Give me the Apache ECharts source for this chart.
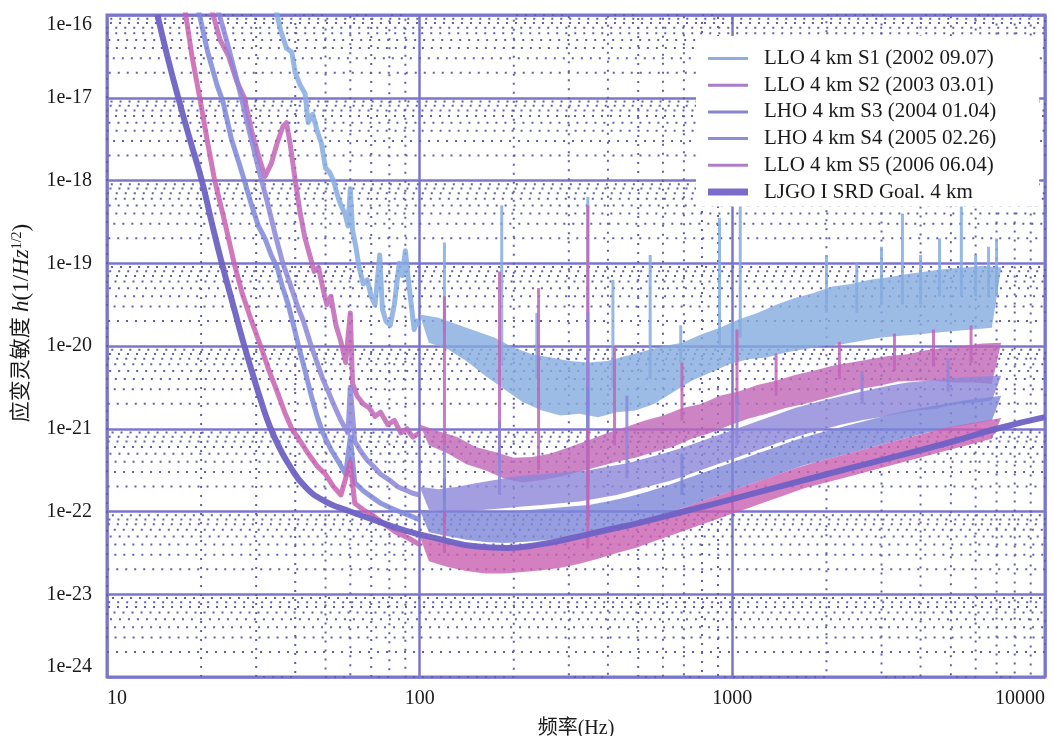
<!DOCTYPE html>
<html>
<head>
<meta charset="utf-8">
<script src="https://cdn.jsdelivr.net/npm/echarts@6/dist/echarts.min.js"></script>
<style>
html, body { margin: 0; padding: 0; background: #fff; }
#chart { width: 1054px; height: 736px; }
</style>
</head>
<body>
<div id="chart"></div>
<script>
// every point is [frequency in Hz, log10 of the strain h]
// band arrays step alternately along the upper and the lower edge of the noise band
// spikes are [frequency in Hz, log10 h at the band, log10 h at the tip]
const srdGoal = [[14.5,-16],[15.6,-16.5],[16.9,-17],[18.4,-17.5],[20.1,-18],[21.6,-18.5],[23.3,-19],[25.3,-19.5],[27.5,-20],[29.3,-20.35],[31,-20.65],[33,-20.95],[35,-21.17],[38,-21.42],[43,-21.7],[50,-21.88],[60,-22.0],[70,-22.09],[90,-22.23],[115,-22.33],[150,-22.42],[190,-22.44],[240,-22.4],[300,-22.33],[400,-22.22],[500,-22.14],[700,-22.0],[1000,-21.85],[2000,-21.55],[3000,-21.38],[5000,-21.16],[7000,-21.0],[10000,-20.86]];

const s1Low = [[34.5,-15.9],[36,-16.2],[37.5,-16.4],[39,-16.45],[40,-16.7],[41.5,-16.85],[43,-16.95],[44,-17.3],[45.5,-17.2],[47,-17.4],[48.5,-17.55],[50,-17.85],[51.5,-17.9],[53,-18.0],[54.8,-18.2],[56,-18.3],[57.7,-18.4],[59,-18.55],[60,-18.1],[61,-18.6],[62.5,-18.8],[64,-19.05],[66,-19.25],[68,-19.2],[70,-19.4],[72,-19.5],[74.5,-18.9],[76,-19.55],[78,-19.7],[80.5,-19.75],[83,-19.5],[86,-19.0],[88,-19.15],[90,-18.85],[92,-19.2],[94,-19.5],[96,-19.8],[98,-19.7],[100,-19.75]];
const s1Band = [[100,-19.62],[107,-19.96],[115,-19.66],[123,-20.04],[132,-19.74],[141,-20.18],[151,-19.82],[162,-20.36],[174,-19.9],[186,-20.52],[200,-20.02],[214,-20.68],[229,-20.1],[246,-20.78],[263,-20.14],[282,-20.84],[302,-20.18],[324,-20.82],[347,-20.2],[372,-20.86],[398,-20.18],[427,-20.8],[457,-20.12],[490,-20.78],[525,-20.06],[562,-20.7],[603,-20.0],[646,-20.56],[692,-19.96],[741,-20.42],[794,-19.86],[851,-20.32],[912,-19.78],[977,-20.22],[1047,-19.68],[1122,-20.16],[1202,-19.6],[1288,-20.14],[1380,-19.5],[1479,-20.08],[1585,-19.42],[1698,-20.04],[1820,-19.36],[1950,-20.0],[2089,-19.28],[2239,-19.98],[2399,-19.25],[2570,-19.94],[2754,-19.2],[2951,-19.9],[3162,-19.17],[3388,-19.88],[3631,-19.13],[3890,-19.86],[4169,-19.1],[4467,-19.84],[4786,-19.07],[5129,-19.82],[5495,-19.05],[5888,-19.8],[6310,-19.03],[6761,-19.78],[7244,-19.05]];
const s1Spikes = [[120,-19.85,-18.75],[183,-20.2,-18.3],[237,-20.4,-19.6],[345,-20.5,-18.2],[415,-20.5,-19.2],[546,-20.4,-18.9],[684,-20.2,-19.75],[910,-20.0,-18.45],[1060,-19.9,-17.9],[2000,-19.6,-18.9],[2500,-19.6,-19.0],[3000,-19.5,-18.8],[3500,-19.5,-18.4],[4000,-19.5,-18.9],[4600,-19.4,-18.7],[5400,-19.4,-18.0],[6000,-19.4,-18.9],[6600,-19.4,-18.8],[7000,-19.4,-18.7]];

const s2Low = [[21.5,-15.9],[23,-16.3],[24.5,-16.5],[26,-16.8],[27.5,-17.0],[29,-17.4],[30.5,-17.7],[32,-17.95],[33.5,-17.8],[35,-17.55],[36.5,-17.35],[37.5,-17.3],[38.5,-17.55],[40,-18.0],[41.5,-18.4],[43,-18.7],[44.5,-18.9],[46,-19.1],[47.5,-19.05],[49,-19.3],[50.5,-19.5],[52,-19.4],[54,-19.75],[56,-19.95],[58,-20.2],[60,-19.6],[61,-20.45],[63,-20.6],[66,-20.7],[69,-20.75],[72,-20.85],[75,-20.8],[79,-20.95],[83,-20.9],[87,-21.05],[91,-21.0],[95,-21.1],[100,-21.05]];
const s2Band = [[100,-20.95],[107,-21.2],[115,-21.03],[123,-21.3],[132,-21.1],[141,-21.43],[151,-21.22],[162,-21.5],[174,-21.28],[186,-21.6],[200,-21.35],[214,-21.65],[229,-21.34],[246,-21.62],[263,-21.3],[282,-21.58],[302,-21.22],[324,-21.52],[347,-21.14],[372,-21.46],[398,-21.05],[427,-21.4],[457,-20.98],[490,-21.35],[525,-20.9],[562,-21.28],[603,-20.84],[646,-21.22],[692,-20.75],[741,-21.12],[794,-20.7],[851,-21.05],[912,-20.6],[977,-20.96],[1047,-20.55],[1122,-20.88],[1202,-20.47],[1288,-20.82],[1380,-20.42],[1479,-20.75],[1585,-20.35],[1698,-20.7],[1820,-20.3],[1950,-20.64],[2089,-20.24],[2239,-20.58],[2399,-20.2],[2570,-20.52],[2754,-20.16],[2951,-20.48],[3162,-20.12],[3388,-20.43],[3631,-20.1],[3890,-20.42],[4169,-20.05],[4467,-20.42],[4786,-20.02],[5129,-20.44],[5495,-20.0],[5888,-20.44],[6310,-19.97],[6761,-20.46],[7244,-19.96]];
const s2Spikes = [[120,-21.2,-19.4],[180,-21.4,-19.1],[240,-21.5,-19.3],[345,-21.3,-18.3],[420,-21.2,-20.0],[690,-20.9,-20.2],[1035,-20.7,-19.8],[1380,-20.6,-20.1],[2200,-20.4,-19.95],[3300,-20.3,-19.85],[4400,-20.25,-19.8],[5800,-20.2,-19.75]];

const s3Low = [[22.5,-15.9],[24.5,-16.4],[26.5,-16.9],[28.5,-17.4],[30.5,-17.85],[32.5,-18.25],[34.5,-18.65],[36.5,-19.0],[38.5,-19.25],[40.5,-19.5],[42.5,-19.7],[45,-20.0],[47,-20.2],[49,-20.4],[51,-20.55],[53,-20.7],[56,-20.9],[59,-21.05],[60,-20.5],[62,-21.15],[65,-21.28],[68,-21.38],[71,-21.45],[75,-21.55],[80,-21.62],[85,-21.7],[90,-21.74],[95,-21.78],[100,-21.8]];
const s3Band = [[100,-21.7],[107,-21.98],[115,-21.73],[123,-22.0],[132,-21.7],[141,-22.0],[151,-21.66],[162,-21.98],[174,-21.62],[186,-21.96],[200,-21.58],[214,-21.94],[229,-21.56],[246,-21.92],[263,-21.54],[282,-21.9],[302,-21.52],[324,-21.88],[347,-21.5],[372,-21.84],[398,-21.46],[427,-21.8],[457,-21.42],[490,-21.74],[525,-21.36],[562,-21.68],[603,-21.3],[646,-21.62],[692,-21.23],[741,-21.54],[794,-21.15],[851,-21.46],[912,-21.07],[977,-21.38],[1047,-20.99],[1122,-21.3],[1202,-20.91],[1288,-21.22],[1380,-20.83],[1479,-21.14],[1585,-20.75],[1698,-21.07],[1820,-20.69],[1950,-21.01],[2089,-20.63],[2239,-20.95],[2399,-20.58],[2570,-20.9],[2754,-20.53],[2951,-20.86],[3162,-20.48],[3388,-20.82],[3631,-20.44],[3890,-20.78],[4169,-20.42],[4467,-20.76],[4786,-20.4],[5129,-20.7],[5495,-20.38],[5888,-20.69],[6310,-20.37],[6761,-20.66],[7244,-20.36]];
const s3Spikes = [[120,-21.85,-21.2],[180,-21.8,-20.9],[345,-21.7,-19.6],[460,-21.6,-20.6],[1035,-21.2,-20.6],[2600,-20.7,-20.3],[4900,-20.55,-20.15]];

const s4Low = [[19.5,-15.9],[21,-16.45],[22.5,-16.85],[23.5,-17.05],[25,-17.5],[26.5,-17.8],[27.5,-18.0],[29,-18.3],[30.5,-18.55],[32,-18.7],[33.5,-18.9],[35,-19.05],[36.5,-19.3],[38,-19.5],[39.5,-19.75],[41,-20.0],[43,-20.3],[45,-20.6],[47,-20.85],[49,-21.05],[52,-21.25],[55,-21.4],[58,-21.55],[60,-21.1],[62,-21.65],[66,-21.75],[70,-21.82],[75,-21.9],[80,-21.95],[86,-22.0],[93,-22.05],[100,-22.1]];
const s4Band = [[100,-21.98],[107,-22.25],[115,-22.0],[123,-22.3],[132,-22.0],[141,-22.34],[151,-22.0],[162,-22.37],[174,-22.0],[186,-22.38],[200,-22.0],[214,-22.37],[229,-21.98],[246,-22.35],[263,-21.96],[282,-22.33],[302,-21.94],[324,-22.3],[347,-21.92],[372,-22.26],[398,-21.88],[427,-22.21],[457,-21.83],[490,-22.15],[525,-21.77],[562,-22.08],[603,-21.7],[646,-22.0],[692,-21.62],[741,-21.92],[794,-21.54],[851,-21.84],[912,-21.46],[977,-21.76],[1047,-21.38],[1122,-21.68],[1202,-21.3],[1288,-21.6],[1380,-21.22],[1479,-21.52],[1585,-21.14],[1698,-21.44],[1820,-21.07],[1950,-21.38],[2089,-21.01],[2239,-21.32],[2399,-20.95],[2570,-21.26],[2754,-20.89],[2951,-21.2],[3162,-20.83],[3388,-21.14],[3631,-20.78],[3890,-21.08],[4169,-20.74],[4467,-21.02],[4786,-20.7],[5129,-20.98],[5495,-20.66],[5888,-20.94],[6310,-20.63],[6761,-20.9],[7244,-20.6]];
const s4Spikes = [[120,-22.15,-21.6],[345,-22.1,-20.5],[690,-21.8,-21.3]];

const s5Low = [[17.7,-15.9],[18.7,-16.5],[19.8,-17.0],[21,-17.55],[22.1,-18.0],[23.8,-18.5],[25.5,-19.0],[27,-19.35],[29,-19.7],[31,-20.0],[33,-20.3],[35,-20.55],[37,-20.8],[39,-21.0],[41.5,-21.15],[44,-21.3],[47,-21.45],[50,-21.55],[53,-21.7],[56,-21.8],[60,-21.4],[62,-21.9],[66,-21.98],[71,-22.05],[77,-22.15],[84,-22.25],[92,-22.32],[100,-22.4]];
const s5Band = [[100,-22.3],[107,-22.6],[115,-22.34],[123,-22.67],[132,-22.38],[141,-22.72],[151,-22.41],[162,-22.75],[174,-22.42],[186,-22.75],[200,-22.41],[214,-22.73],[229,-22.39],[246,-22.71],[263,-22.37],[282,-22.68],[302,-22.33],[324,-22.63],[347,-22.28],[372,-22.57],[398,-22.22],[427,-22.5],[457,-22.16],[490,-22.44],[525,-22.1],[562,-22.36],[603,-22.04],[646,-22.28],[692,-21.96],[741,-22.2],[794,-21.88],[851,-22.12],[912,-21.8],[977,-22.04],[1047,-21.72],[1122,-21.96],[1202,-21.64],[1288,-21.88],[1380,-21.56],[1479,-21.8],[1585,-21.48],[1698,-21.72],[1820,-21.41],[1950,-21.66],[2089,-21.35],[2239,-21.6],[2399,-21.29],[2570,-21.54],[2754,-21.23],[2951,-21.48],[3162,-21.17],[3388,-21.42],[3631,-21.11],[3890,-21.36],[4169,-21.05],[4467,-21.3],[4786,-20.99],[5129,-21.24],[5495,-20.95],[5888,-21.18],[6310,-20.91],[6761,-21.12],[7244,-20.87]];
const s5Spikes = [[120,-22.5,-22.0],[345,-22.45,-21.0]];

const seriesNames = ['LLO 4 km S1 (2002 09.07)', 'LLO 4 km S2 (2003 03.01)', 'LHO 4 km S3 (2004 01.04)', 'LHO 4 km S4 (2005 02.26)', 'LLO 4 km S5 (2006 06.04)', 'LJGO I SRD Goal. 4 km'];
const lowParts = [s1Low, s2Low, s3Low, s4Low, s5Low];
const bandParts = [s1Band, s2Band, s3Band, s4Band, s5Band];
const spikeParts = [s1Spikes, s2Spikes, s3Spikes, s4Spikes, s5Spikes];
const lineColors = ['#85abdf', '#c065b6', '#8c86d8', '#7d86d8', '#c95fb0', '#6f62c4'];
const legendColors = ['#8fadde', '#a97cc8', '#8585d0', '#8a8ed6', '#b07cc5', '#7a6cc8'];

const xTickLabels = ['10', '100', '1000', '10000'];
const yTickLabels = ['1e-24', '1e-23', '1e-22', '1e-21', '1e-20', '1e-19', '1e-18', '1e-17', '1e-16'];
const minorSteps = [2, 3, 4, 5, 6, 7, 8, 9];
const xDecades = [10, 100, 1000];
const yDecades = [-24, -23, -22, -21, -20, -19, -18, -17];

// the y axis runs in units of 1e-24 so the log scale keeps its precision;
// its labels still read in strain from yTickLabels
const Y_UNIT_EXP = -24;
const X_MIN = 10, X_MAX = 10000, Y_MIN = 1, Y_MAX = 1e8;

const SERIF = "'Liberation Serif', 'Noto Sans CJK SC', serif";
const majorColor = '#7b76cc';

const toAxis = arr => arr.map(p => [p[0], Math.pow(10, p[1] - Y_UNIT_EXP)]);

// dotted minor grid: one path snaking across the plot, turning on the border
const xMinor = [];
xDecades.forEach(d => minorSteps.forEach(m => xMinor.push(m * d)));
const yMinor = [];
yDecades.forEach(e => minorSteps.forEach(m => yMinor.push(m * Math.pow(10, e - Y_UNIT_EXP))));
const xMinorPath = [];
xMinor.forEach((x, i) => {
  if (i % 2) { xMinorPath.push([x, Y_MAX], [x, Y_MIN]); } else { xMinorPath.push([x, Y_MIN], [x, Y_MAX]); }
});
const yMinorPath = [];
yMinor.forEach((y, i) => {
  if (i % 2) { yMinorPath.push([X_MAX, y], [X_MIN, y]); } else { yMinorPath.push([X_MIN, y], [X_MAX, y]); }
});
const minorStyle = { color: '#615fa8', width: 2, type: [2, 7] };

const series = [
  { name: 'minorX', type: 'line', data: xMinorPath, symbol: 'none', silent: true, z: 1, lineStyle: minorStyle },
  { name: 'minorY', type: 'line', data: yMinorPath, symbol: 'none', silent: true, z: 1, lineStyle: minorStyle }
];

lowParts.forEach((low, i) => {
  const color = lineColors[i];
  series.push({
    name: seriesNames[i], type: 'line', symbol: 'none', z: 2 + i,
    data: toAxis(low),
    itemStyle: { color: color },
    lineStyle: { color: color, width: 5, opacity: 0.85, join: 'round' }
  });

  const band = toAxis(bandParts[i]);
  const upper = band.filter((p, k) => k % 2 === 0);
  const lower = band.filter((p, k) => k % 2 === 1);
  series.push({
    name: seriesNames[i], type: 'custom', coordinateSystem: 'cartesian2d', z: 2 + i,
    data: band,
    encode: { x: 0, y: 1 },
    itemStyle: { color: color },
    renderItem: (params, api) => {
      if (params.dataIndex !== 0) return null;
      const pts = upper.concat(lower.slice().reverse()).map(p => api.coord(p));
      return { type: 'polygon', shape: { points: pts }, style: { fill: color, opacity: 0.8 } };
    }
  });

  const spikes = spikeParts[i].map(s => [s[0], Math.pow(10, s[1] - Y_UNIT_EXP), Math.pow(10, s[2] - Y_UNIT_EXP)]);
  series.push({
    name: seriesNames[i], type: 'custom', coordinateSystem: 'cartesian2d', z: 2 + i,
    data: spikes,
    encode: { x: 0, y: [1, 2] },
    itemStyle: { color: color },
    renderItem: (params, api) => {
      const a = api.coord([api.value(0), api.value(1)]);
      const b = api.coord([api.value(0), api.value(2)]);
      return {
        type: 'line',
        shape: { x1: a[0], y1: a[1], x2: b[0], y2: b[1] },
        style: { stroke: color, lineWidth: 3, opacity: 0.85 }
      };
    }
  });
});

series.push({
  name: seriesNames[5], type: 'line', symbol: 'none', smooth: true, z: 8,
  data: toAxis(srdGoal),
  itemStyle: { color: lineColors[5] },
  lineStyle: { color: lineColors[5], width: 6, opacity: 0.95 }
});

const chart = echarts.init(document.getElementById('chart'));
chart.setOption({
  animation: false,
  backgroundColor: '#fff',
  grid: {
    left: 107, right: 9, top: 15, bottom: 59,
    outerBoundsMode: 'none',
    show: true, borderColor: majorColor, borderWidth: 3
  },
  legend: {
    orient: 'vertical',
    left: 696,
    top: 36,
    padding: [12, 43, 4, 12],
    backgroundColor: '#fff',
    itemWidth: 40,
    itemHeight: 14,
    itemGap: 5.7,
    textStyle: { fontFamily: SERIF, fontSize: 21, lineHeight: 21, color: '#1a1a1a', padding: [0, 0, 0, 11] },
    data: seriesNames.map((n, i) => ({
      name: n,
      icon: i === 5 ? 'path://M0,0H40V7H0Z' : 'path://M0,0H40V3H0Z',
      itemStyle: { color: legendColors[i] }
    }))
  },
  xAxis: {
    type: 'log',
    logBase: 10,
    min: X_MIN,
    max: X_MAX,
    name: '频率(Hz)',
    nameLocation: 'middle',
    nameGap: 42,
    nameMoveOverlap: false,
    nameTextStyle: { fontFamily: SERIF, fontSize: 20, color: '#1a1a1a' },
    axisLine: { show: false },
    axisTick: { show: false },
    axisLabel: {
      fontFamily: SERIF, fontSize: 20, color: '#1a1a1a', margin: 12,
      alignMinLabel: 'left', alignMaxLabel: 'right',
      formatter: (v, idx) => xTickLabels[idx] || ''
    },
    splitLine: { show: true, lineStyle: { color: majorColor, width: 2.5 } }
  },
  yAxis: {
    type: 'log',
    logBase: 10,
    min: Y_MIN,
    max: Y_MAX,
    name: '{gap|}{cn|应变灵敏度 }{it|h}{n|(1/}{it|Hz}{sup|1/2}{n|)}',
    nameLocation: 'middle',
    nameGap: 74,
    nameMoveOverlap: false,
    nameTextStyle: {
      fontFamily: SERIF, fontSize: 22, color: '#1a1a1a',
      rich: {
        gap: { width: 46 },
        cn: { fontFamily: SERIF, fontSize: 21, color: '#1a1a1a' },
        it: { fontFamily: SERIF, fontSize: 23, fontStyle: 'italic', color: '#1a1a1a' },
        n: { fontFamily: SERIF, fontSize: 23, color: '#1a1a1a' },
        sup: { fontFamily: SERIF, fontSize: 14, color: '#1a1a1a', verticalAlign: 'top' }
      }
    },
    axisLine: { show: false },
    axisTick: { show: false },
    axisLabel: {
      fontFamily: SERIF, fontSize: 20, color: '#1a1a1a', margin: 15,
      showMinLabel: true, showMaxLabel: true,
      verticalAlignMinLabel: 'bottom', verticalAlignMaxLabel: 'top',
      formatter: (v, idx) => yTickLabels[idx] || ''
    },
    splitLine: { show: true, lineStyle: { color: majorColor, width: 2.5 } }
  },
  series: series
});
</script>
</body>
</html>
